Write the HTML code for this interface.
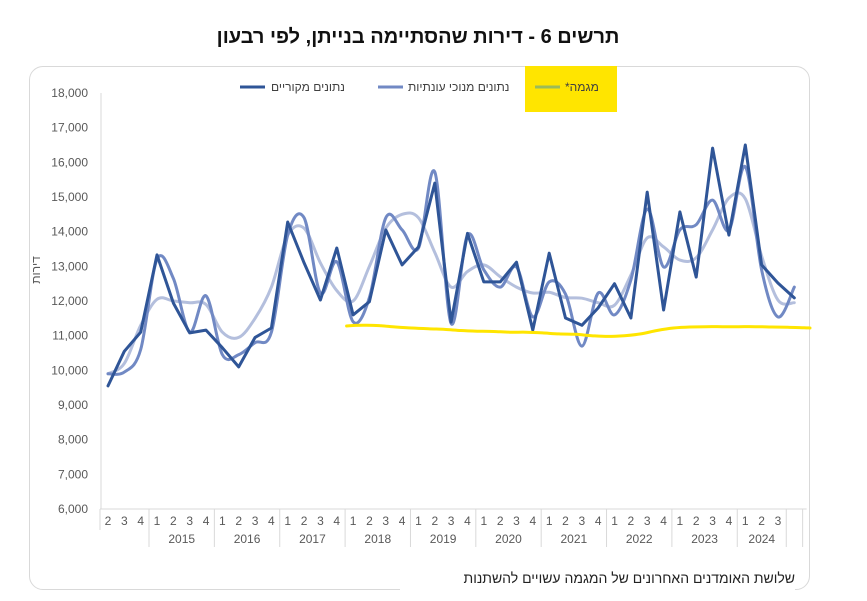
<!DOCTYPE html>
<html lang="he"><head><meta charset="utf-8">
<style>
body{margin:0;background:#fff;width:867px;height:597px;overflow:hidden;font-family:"Liberation Sans","Noto Sans CJK SC",sans-serif;}
#wrap{position:relative;width:867px;height:597px;}
#title{position:absolute;left:0;width:836px;top:26px;text-align:center;font-weight:bold;font-size:20px;color:#111;direction:rtl;}
#card{position:absolute;left:29px;top:66px;width:779px;height:522px;border:1px solid #d9d9d9;border-radius:14px;}
#note{position:absolute;left:400px;top:566px;width:395px;height:31px;background:#fff;text-align:right;direction:rtl;font-size:14px;color:#222;padding-top:4px;}
svg{position:absolute;left:0;top:0;}
</style></head><body>
<div id="wrap">
<div id="title">תרשים 6 - דירות שהסתיימה בנייתן, לפי רבעון</div>
<div id="card"></div>
<svg id="chart" width="867" height="597"></svg>
<div id="note">שלושת האומדנים האחרונים של המגמה עשויים להשתנות</div>
</div>
<script>
const quarterLabels=["2","3","4","1","2","3","4","1","2","3","4","1","2","3","4","1","2","3","4","1","2","3","4","1","2","3","4","1","2","3","4","1","2","3","4","1","2","3","4","1","2","3",""];
const years=["2015","2016","2017","2018","2019","2020","2021","2022","2023","2024"];
const yTicks=[6000,7000,8000,9000,10000,11000,12000,13000,14000,15000,16000,17000,18000];
const original=[9550,10550,11100,13330,11940,11080,11160,10650,10100,10950,11220,14280,13100,12030,13530,11600,11980,14050,13040,13560,15400,11390,13950,12550,12550,13120,11160,13380,11510,11300,11800,12500,11510,15140,11740,14570,12690,16410,13900,16500,13040,12520,12090];
const seasonal=[9900,9950,10600,13200,12650,11100,12150,10450,10450,10800,11100,13900,14400,12230,13130,11400,12100,14400,14050,13530,15720,11350,13900,12900,12400,12980,11540,12550,12200,10700,12230,11600,12610,14650,12980,14050,14200,14910,14040,15870,12900,11540,12400];
const trend=[9900,10200,11300,12050,12000,11950,11900,11100,10950,11500,12400,13900,14100,13100,12300,12000,13000,14100,14500,14400,13400,12400,12850,13040,12700,12400,12230,12250,12100,12080,11950,11880,12750,13820,13560,13180,13250,14050,14970,14950,13300,12030,11950];
const highlightStart=14.6;
const highlight=[11280,11300,11290,11250,11220,11200,11180,11150,11130,11120,11100,11100,11080,11050,11040,11000,10980,11000,11050,11150,11220,11250,11260,11260,11260,11260,11250,11240,11230,11220];
const legendNames=["נתונים מקוריים","נתונים מנוכי עונתיות","מגמה*"];

const NS="http://www.w3.org/2000/svg";
const svg=document.getElementById('chart');
const X0=100,CW=16.34,Y0=509,Ytop=93,VMIN=6000,VMAX=18000;
function xs(i){return X0+8+CW*i;}
function ys(v){return Y0-(v-VMIN)/(VMAX-VMIN)*(Y0-Ytop);}
function mk(tag,attrs,parent){const e=document.createElementNS(NS,tag);for(const k in attrs)e.setAttribute(k,attrs[k]);(parent||svg).appendChild(e);return e;}

let ax=mk('line',{x1:101,y1:Ytop,x2:101,y2:Y0,stroke:'#d9d9d9','stroke-width':1});


yTicks.forEach(v=>{
 const t=mk('text',{x:88,y:ys(v)+4,'text-anchor':'end','font-size':12,fill:'#595959'});
 t.textContent=v.toLocaleString('en-US');
 
 
});
const yt=mk('text',{x:0,y:0,'text-anchor':'middle','font-size':12,fill:'#595959',transform:'translate(40,270) rotate(-90)'});
yt.textContent='דירות';



const xEnd=X0+CW*quarterLabels.length;
let xa=mk('line',{x1:X0,y1:Y0,x2:xEnd+4,y2:Y0,stroke:'#d9d9d9','stroke-width':1});


quarterLabels.forEach((q,i)=>{
 const t=mk('text',{x:xs(i),y:525,'text-anchor':'middle','font-size':12,fill:'#595959'});
 t.textContent=q;
 
 
});
function sep(i,y2){const l=mk('line',{x1:X0+CW*i,y1:Y0,x2:X0+CW*i,y2:y2,stroke:'#d9d9d9','stroke-width':1});
 
 }
sep(0,530);
years.forEach((y,k)=>{
 const s=3+4*k;
 sep(s,547);
 const n=(k===years.length-1)?3:4;
 const t=mk('text',{x:X0+CW*(s+n/2),y:543,'text-anchor':'middle','font-size':12,fill:'#595959'});
 t.textContent=y;
 
 
});
sep(42,547);sep(43,547);

function smoothPath(p){
 let d='M'+p[0][0].toFixed(1)+','+p[0][1].toFixed(1);
 for(let i=0;i<p.length-1;i++){
  const a=p[i-1]||p[i],b=p[i],c=p[i+1],e=p[i+2]||c;
  const c1=[b[0]+(c[0]-a[0])/6,b[1]+(c[1]-a[1])/6],c2=[c[0]-(e[0]-b[0])/6,c[1]-(e[1]-b[1])/6];
  d+=' C'+c1.map(v=>v.toFixed(1)).join(',')+' '+c2.map(v=>v.toFixed(1)).join(',')+' '+c[0].toFixed(1)+','+c[1].toFixed(1);
 }
 return d;
}
function line(data,color,name,start,smooth){
 const pts=data.map((v,i)=>[Math.min(xs((start||0)+i),810),ys(v)]);
 const d=smooth?smoothPath(pts):'M'+pts.map(p=>p[0].toFixed(1)+','+p[1].toFixed(1)).join(' L');
 const p=mk('path',{d:d,fill:'none',stroke:color,'stroke-width':3,'stroke-linejoin':'round','stroke-linecap':'round'});
 
 
}
line(trend,'#b4bfdd','trend-series',0,true);
line(seasonal,'#7189c4','seasonally-adjusted-series',0,true);
line(original,'#2f5597','original-series',0,false);
line(highlight,'#ffe500','trend-highlight-annotation',highlightStart,true);

const hl=mk('rect',{x:525,y:66,width:92,height:46,fill:'#ffe500'});


const leg=[[240,265,'#2f5597',271,legendNames[0],'legend-original'],[378,403,'#7189c4',408,legendNames[1],'legend-seasonal'],[535,560,'#9bbb59',565,legendNames[2],'legend-trend']];
leg.forEach(l=>{
 const g=mk('g',{});
 
 
 mk('line',{x1:l[0],y1:87,x2:l[1],y2:87,stroke:l[2],'stroke-width':3},g);
 const t=mk('text',{x:l[3],y:91,'font-size':12,fill:'#404040',direction:'rtl','text-anchor':'end'},g);
 t.textContent=l[4];
});
</script>
</body></html>
